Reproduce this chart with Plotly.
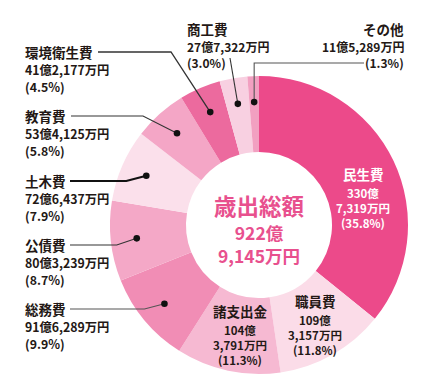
import math
import plotly.graph_objects as go

# ---- data ----
categories = ["民生費", "職員費", "諸支出金", "総務費", "公債費", "土木費",
              "教育費", "環境衛生費", "商工費", "その他"]
values_man = [3307319, 1093157, 1043791, 916289, 803239, 726437,
              534125, 412177, 277322, 115289]          # 万円
percent_labels = ["35.8%", "11.8%", "11.3%", "9.9%", "8.7%", "7.9%",
                  "5.8%", "4.5%", "3.0%", "1.3%"]
colors = ["#EC4A8A", "#FBDCE8", "#F6B9D2", "#F18DB5", "#F4A8C7", "#FBE0EB",
          "#F4A6C6", "#EC6A9E", "#F8D0E1", "#F2A0C1"]
total_title = "歳出総額"


def fmt_amount(v):
    oku, man = divmod(v, 10000)
    return f"{oku}億", f"{man:,}万円"


W, H = 437, 377
CX, CY, R = 251, 217, 149
HOLE = 0.49
R_DOT = 123

fig = go.Figure()
fig.add_trace(go.Pie(
    labels=categories, values=values_man, sort=False, direction="clockwise",
    rotation=0, hole=HOLE, textinfo="none", hoverinfo="label+percent",
    marker=dict(colors=colors, line=dict(width=0)), showlegend=False,
    domain=dict(x=[(CX - R) / W, (CX + R) / W],
                y=[(H - CY - R) / H, (H - CY + R) / H]),
))

FONT = "Noto Sans CJK JP"
DARK = "#231815"
PINK = "#E8508E"

ann = []
shapes = []


def text(x, y, s, size, color=DARK, anchor="left", bold=True, valign="middle"):
    ann.append(dict(x=x, y=y, xref="x", yref="y", text=(f"<b>{s}</b>" if bold else s),
                    showarrow=False, xanchor=anchor, yanchor=valign,
                    align=anchor if anchor != "center" else "center",
                    font=dict(family=FONT, size=size, color=color), borderpad=0))


# slice mid angles -> dot positions
tot = sum(values_man)
cum = 0
mid_pts = []
for v in values_man:
    a = (cum + v / 2) / tot * 2 * math.pi
    mid_pts.append((CX + R_DOT * math.sin(a), CY - R_DOT * math.cos(a)))
    cum += v

# outside labels (layout)
outside = {
    7: dict(x=16, y=44, lx=90, bend=(163, 44), w=1.3, color="#333"),
    6: dict(x=16, y=108, lx=63, bend=(135, 108), w=1.1, color="#333"),
    5: dict(x=16, y=173, lx=62, bend=None, w=2.2, color="#111"),
    4: dict(x=16, y=237, lx=62, bend=None, w=1.1, color="#333"),
    3: dict(x=16, y=301, lx=62, bend=None, w=1.1, color="#555"),
}
for i, o in outside.items():
    oku, man = fmt_amount(values_man[i])
    text(o["x"], o["y"], categories[i], 13.5)
    text(o["x"], o["y"] + 18, f"{oku}{man}", 12.3)
    text(o["x"], o["y"] + 35, f"({percent_labels[i]})", 12.3)
    dx, dy = mid_pts[i]
    pts = [(o["lx"], o["y"])]
    if o["bend"]:
        pts.append(o["bend"])
    else:
        pts.append((dx - 20, o["y"]))
    pts.append((dx, dy))
    path = "M " + " L ".join(f"{px},{py}" for px, py in pts)
    shapes.append(dict(type="path", path=path, xref="x", yref="y",
                       line=dict(color=o["color"], width=o["w"])))

# 商工費 (top, left aligned)
i = 8
oku, man = fmt_amount(values_man[i])
text(178, 21, categories[i], 13.5)
text(178, 38, f"{oku}{man}", 12)
text(178, 54, f"({percent_labels[i]})", 12)
dx, dy = mid_pts[i]
shapes.append(dict(type="path", path=f"M 222,50 L {dx},{dy}", xref="x", yref="y",
                   line=dict(color="#333", width=1.1)))

# その他 (top right, right aligned)
i = 9
oku, man = fmt_amount(values_man[i])
text(397, 21, categories[i], 13.5, anchor="right")
text(397, 38, f"{oku}{man}", 12, anchor="right")
text(397, 54, f"({percent_labels[i]})", 12, anchor="right")
dx, dy = mid_pts[i]
shapes.append(dict(type="path", path=f"M 356,55 L {dx},55 L {dx},{dy}", xref="x", yref="y",
                   line=dict(color="#555", width=1.1)))

# dots
for i in list(outside.keys()) + [8, 9]:
    dx, dy = mid_pts[i]
    shapes.append(dict(type="circle", xref="x", yref="y", x0=dx - 3.3, x1=dx + 3.3,
                       y0=dy - 3.3, y1=dy + 3.3, fillcolor="#111", line=dict(width=0)))

# inside labels
inside = {0: (355, 166, "#FFFFFF"), 1: (307, 293, DARK), 2: (232, 303, DARK)}
for i, (x, y, c) in inside.items():
    oku, man = fmt_amount(values_man[i])
    text(x, y, categories[i], 13.5, color=c, anchor="center")
    text(x, y + 9.5, f"{oku}<br>{man}<br>({percent_labels[i]})", 11.5, color=c,
         anchor="center", valign="top")

# center
t_oku, t_man = fmt_amount(tot)
text(CX, 197, total_title, 22.5, color=PINK, anchor="center")
text(CX, 211, f"{t_oku}<br>{t_man}", 17.5, color=PINK, anchor="center", valign="top")

fig.update_layout(
    width=W, height=H, margin=dict(l=0, r=0, t=0, b=0),
    paper_bgcolor="white", plot_bgcolor="rgba(0,0,0,0)",
    xaxis=dict(range=[0, W], visible=False, fixedrange=True),
    yaxis=dict(range=[H, 0], visible=False, fixedrange=True),
    annotations=ann, shapes=shapes, showlegend=False,
)
fig.write_html("out.html")
